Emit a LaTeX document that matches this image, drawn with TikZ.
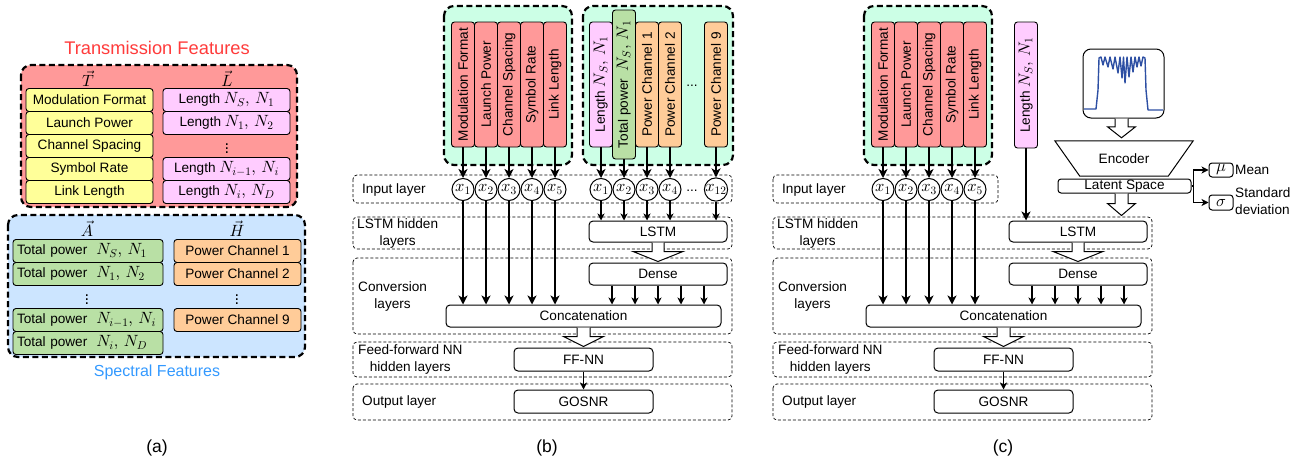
\IfFileExists{fix-cm.sty}{\RequirePackage{fix-cm}}{}
\documentclass[tikz,border=0pt]{standalone}
\usepackage[no-math]{fontspec}
\setmainfont{Liberation Sans}
\usetikzlibrary{arrows.meta,calc}

% scalable Computer Modern shapes for the formulas
\DeclareFontShape{OML}{cmm}{m}{it}{<->cmmi10}{}
\DeclareFontShape{OT1}{cmr}{m}{n}{<->cmr10}{}
\DeclareFontShape{OMS}{cmsy}{m}{n}{<->cmsy10}{}
\DeclareFontShape{OMX}{cmex}{m}{n}{<->cmex10}{}

% formulas are set a little larger than the sans-serif labels
\newcommand{\mth}[1]{{\fontsize{16.3}{17}\selectfont$#1$}}

\definecolor{featred}{HTML}{FF9999}
\definecolor{featyellow}{HTML}{FFFF99}
\definecolor{featpink}{HTML}{FFCCFF}
\definecolor{featgreen}{HTML}{B9E0A5}
\definecolor{featorange}{HTML}{FFCC99}
\definecolor{groupblue}{HTML}{CCE5FF}
\definecolor{groupmint}{HTML}{CCFFE6}
\definecolor{titlered}{HTML}{FF3B3B}
\definecolor{titleblue}{HTML}{3399FF}
\definecolor{specline}{HTML}{2D4FA3}

\tikzset{
  hfeat/.style={draw, line width=0.9pt, rounded corners=3pt, minimum width=127,
    minimum height=23, inner sep=0pt},
  vfeat/.style={hfeat, minimum width=125, rotate=90},
  group/.style={draw, line width=2.2pt, dash pattern=on 6pt off 3.5pt, rounded corners=10pt},
  layer/.style={draw, line width=0.7pt, dash pattern=on 3pt off 2pt, rounded corners=4pt},
  block/.style={draw, line width=1pt, rounded corners=4pt, fill=white, inner sep=0pt},
  neuron/.style={draw, circle, line width=1pt, minimum size=22, inner sep=0pt, fill=white},
  lab/.style={inner sep=0pt, align=center},
  bigarrow/.style={line width=1.8pt, -{Stealth[length=9pt, width=9pt, inset=2.5pt]}},
  smallarrow/.style={line width=1.1pt, -{Stealth[length=7pt, width=7pt, inset=2pt]}},
  hollow/.style={draw, fill=white, line width=1pt, line join=miter},
  caption/.style={font=\fontsize{17.5}{20}\selectfont}
}

% Wide hollow arrow: #1 start, #2 tip, #3 stem half width, #4 head half width, #5 head length
\newcommand{\hollowarrow}[5]{%
  \path[hollow] let \p1=#1, \p2=#2 in
    (\x1-#3pt,\y1) -- (\x1-#3pt,\y2+#5pt) -- (\x1-#4pt,\y2+#5pt) -- (\x1,\y2)
    -- (\x1+#4pt,\y2+#5pt) -- (\x1+#3pt,\y2+#5pt) -- (\x1+#3pt,\y1);
}

% Common network part: #1 name prefix, #2 right edge of the input-layer frame
\newcommand{\netpanel}[2]{%
  \draw[layer] (353,175) rectangle (#2,203);
  \draw[layer] (353,217) rectangle (732,249);
  \draw[layer] (353,258) rectangle (732,334);
  \draw[layer] (353,342) rectangle (732,377);
  \draw[layer] (353,384) rectangle (732,420);
  \node[lab, anchor=west] (#1labin) at (362,189.5) {Input layer};
  \node[lab, anchor=west] (#1lablstm) at (357,233) {LSTM hidden\\layers};
  \node[lab, anchor=west] (#1labconv) at (358,296) {Conversion\\layers};
  \node[lab, anchor=west] (#1labff) at (358,359.5) {Feed-forward NN\\hidden layers};
  \node[lab, anchor=west] (#1labout) at (362,402) {Output layer};
  \draw[group, fill=groupmint] (444,6) rectangle (572,165);
  \foreach \lbl [count=\i] in {Modulation Format, Launch Power, Channel Spacing, Symbol Rate, Link Length} {
    \node[vfeat, fill=featred] (#1f\i) at ({440+23*\i},84.5) {\lbl};
    \node[neuron] (#1x\i) at ({440+23*\i},189.5) {\mth{x_{\i}}};
  }
  \node[block, minimum width=138, minimum height=21] (#1lstm) at (658,231.5) {LSTM};
  \node[block, minimum width=138, minimum height=22] (#1dense) at (658,274) {Dense};
  \node[block, minimum width=275, minimum height=22] (#1cat) at (583.5,316) {Concatenation};
  \node[block, minimum width=139, minimum height=23] (#1ff) at (583.5,359.5) {FF-NN};
  \node[block, minimum width=139, minimum height=23] (#1out) at (583.5,401.5) {GOSNR};
  \foreach \i in {1,...,5} {
    \draw[bigarrow] (#1f\i.west) -- (#1x\i.north);
    \draw[bigarrow] (#1x\i.south) -- (#1x\i.south |- #1cat.north);
  }
  \foreach \dx in {-46,-23,0,23,46} {
    \path ($(#1dense.south)+(\dx,0)$) coordinate (#1tap);
    \draw[smallarrow] (#1tap) -- (#1tap |- #1cat.north);
  }
  \draw[smallarrow] (#1ff.south) -- (#1out.north);
  \hollowarrow{(#1lstm.south)}{($(#1dense.north)+(0,-1)$)}{6}{25}{10}
  \hollowarrow{(#1cat.south)}{($(#1ff.north)+(0,-1)$)}{6.5}{20}{10}
}

\begin{document}
\begin{tikzpicture}[x=1pt, y=-1pt, font=\fontsize{13.6}{17}\selectfont]
\useasboundingbox (0,0) rectangle (1312,466);

% ---------- (a) feature sets ----------
\node[text=titlered, font=\fontsize{18.3}{20}\selectfont] (ttrans) at (157,48) {Transmission Features};
\draw[group, fill=featred] (21,65) rectangle (297,207);
\node[inner sep=0pt] (vT) at (88,79) {\mth{\vec{T}}};
\node[inner sep=0pt] (vL) at (227,79) {\mth{\vec{L}}};
\foreach \lbl [count=\i] in {Modulation Format, Launch Power, Channel Spacing, Symbol Rate, Link Length}
  \node[hfeat, fill=featyellow] (t\i) at (89.5,{77+23*\i}) {\lbl};
\node[hfeat, fill=featpink] (l1) at (226.5,100) {Length \mth{N_S,\,N_1}};
\node[hfeat, fill=featpink] (l2) at (226.5,123) {Length \mth{N_1,\,N_2}};
\node[inner sep=0pt] (ldots) at (227,146) {\mth{\vdots}};
\node[hfeat, fill=featpink] (l3) at (226.5,169) {Length \mth{N_{i-1},\,N_i}};
\node[hfeat, fill=featpink] (l4) at (226.5,192) {Length \mth{N_i,\,N_D}};

\draw[group, fill=groupblue] (8,215) rectangle (305,357);
\node[inner sep=0pt] (vA) at (87,229) {\mth{\vec{A}}};
\node[inner sep=0pt] (vH) at (237,229) {\mth{\vec{H}}};
\tikzset{tpow/.style={hfeat, fill=featgreen, text width=142pt, inner xsep=4pt, align=left}}
\node[tpow] (a1) at (88,251) {Total power\ \ \mth{N_S,\,N_1}};
\node[tpow] (a2) at (88,274) {Total power\ \ \mth{N_1,\,N_2}};
\node[inner sep=0pt] (adots) at (87,297) {\mth{\vdots}};
\node[tpow] (a3) at (88,320) {Total power\ \ \mth{N_{i-1},\,N_i}};
\node[tpow] (a4) at (88,343) {Total power\ \ \mth{N_i,\,N_D}};
\node[hfeat, fill=featorange] (h1) at (237.5,251) {Power Channel 1};
\node[hfeat, fill=featorange] (h2) at (237.5,274) {Power Channel 2};
\node[inner sep=0pt] (hdots) at (237,297) {\mth{\vdots}};
\node[hfeat, fill=featorange] (h3) at (237.5,320) {Power Channel 9};
\node[text=titleblue, font=\fontsize{16}{18}\selectfont] (tspec) at (157,372) {Spectral Features};
\node[caption] (capa) at (157,448) {(a)};

% ---------- (b) LSTM model ----------
\draw[group, fill=groupmint] (583,6) rectangle (733,165);
\netpanel{b}{732}
\node[vfeat, fill=featpink] (bl) at (601,84.5) {Length \mth{N_S,\,N_1}};
\node[vfeat, fill=featgreen, minimum width=149] (ba) at (624,84.5) {Total power\ \ \mth{N_S,\,N_1}};
\node[vfeat, fill=featorange] (bh1) at (647,84.5) {Power Channel 1};
\node[vfeat, fill=featorange] (bh2) at (670,84.5) {Power Channel 2};
\node[vfeat, fill=featorange] (bh9) at (716,84.5) {Power Channel 9};
\node[anchor=base] (bfdots) at (692,86) {...};
\node[neuron] (bs1) at (601,189.5) {\mth{x_1}};
\node[neuron] (bs2) at (624,189.5) {\mth{x_2}};
\node[neuron] (bs3) at (647,189.5) {\mth{x_3}};
\node[neuron] (bs4) at (670,189.5) {\mth{x_4}};
\node[neuron] (bs12) at (716,189.5) {\mth{x_{12}}};
\node[anchor=base] (bxdots) at (692,191) {...};
\draw[bigarrow] (bl.west) -- (bs1.north);
\draw[bigarrow] (ba.west) -- (bs2.north);
\draw[bigarrow] (bh1.west) -- (bs3.north);
\draw[bigarrow] (bh2.west) -- (bs4.north);
\draw[bigarrow] (bh9.west) -- (bs12.north);
\foreach \n in {bs1,bs2,bs3,bs4,bs12}
  \draw[smallarrow] (\n.south) -- (\n.south |- blstm.north);
\node[caption] (capb) at (547,448) {(b)};

% ---------- (c) autoencoder-assisted model ----------
\begin{scope}[xshift=420pt]
\netpanel{c}{578}
\end{scope}
\node[vfeat, fill=featpink, minimum width=126] (cl) at (1026,85) {Length \mth{N_S,\,N_1}};
\draw[bigarrow] (cl.west) -- (cl.west |- clstm.north);

\node[draw, line width=1pt, rounded corners=8pt, minimum width=81, minimum height=69] (spec) at (1123.5,83.5) {};
\draw[specline, line width=1.4pt, line join=round] plot coordinates {
  (1084,109) (1096,109) (1098,90) (1099,58) (1101,57) (1103,65) (1105,57) (1108,67)
  (1110,57) (1113,69) (1115,57) (1118,73) (1120,57) (1122,78) (1123.5,57) (1125,83)
  (1127,57) (1129,77) (1131,57) (1133,72) (1135,57) (1137,67) (1139,57) (1141,66)
  (1143,57) (1145,58) (1146,90) (1148,110) (1163,110)};

\node[minimum width=138, minimum height=35, inner sep=0pt] (enc) at (1124,158.5) {Encoder};
\draw[line width=1pt] (enc.north west) -- (enc.north east) -- ($(enc.south east)+(-25,0)$)
  -- ($(enc.south west)+(25,0)$) -- cycle;
\node[block, rounded corners=3pt, minimum width=133, minimum height=14] (latent) at (1124.5,186) {Latent Space};
\node[block, rounded corners=3pt, minimum width=24, minimum height=14] (mu) at (1221,170) {\mth{\mu}};
\node[block, rounded corners=3pt, minimum width=24, minimum height=15] (sig) at (1221,202.5) {\mth{\sigma}};
\node[lab, anchor=west] (lmean) at (1235,170) {Mean};
\node[lab, anchor=west, align=left] (lstd) at (1235,201.5) {Standard\\deviation};
\draw[smallarrow] (latent.east) -- ++(2,0) |- (mu.west);
\draw[smallarrow] (latent.east) -- ++(2,0) |- (sig.west);
\hollowarrow{($(spec.south)+(-2,0)$)}{($(enc.north)+(0,-3)$)}{6.5}{14}{11}
\hollowarrow{($(latent.south)+(-3,0)$)}{($(clstm.north)+(0,-5)$)}{6.5}{14}{12}
\node[caption] (capc) at (1003,448) {(c)};
\end{tikzpicture}
\end{document}
